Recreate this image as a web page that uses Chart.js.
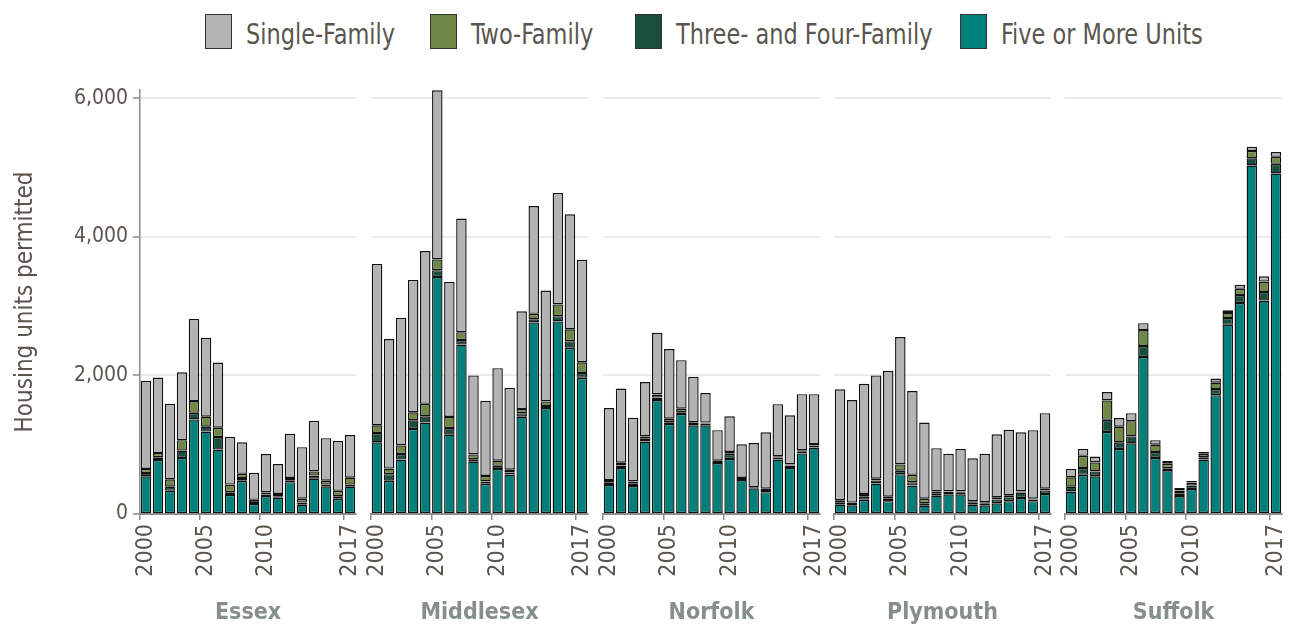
<!DOCTYPE html>
<html>
<head>
<meta charset="utf-8">
<script src="https://cdn.jsdelivr.net/npm/chart.js@4.4.1/dist/chart.umd.min.js"></script>
<style>
  html, body { margin:0; padding:0; background:#fff; width:1291px; height:625px; overflow:hidden; }
  #wrap { position:relative; width:1291px; height:625px; }
  canvas { position:absolute; top:0; }
  .leg { position:absolute; top:14px; height:35px; display:flex; align-items:center;
         font-family:'Liberation Sans Narrow','DejaVu Sans Condensed',Roboto,sans-serif;
         font-size:29px; color:#5a554f; white-space:nowrap; }
  .leg span.box { display:inline-block; width:25px; height:33px; border:1px solid #333; margin-right:14px; flex:none; }
  .leg span.t { display:inline-block; transform:translateY(2px) scaleX(0.86); transform-origin:0 50%; }
</style>
</head>
<body>
<div id="wrap">
  <div class="leg" style="left:205px"><span class="box" style="background:#b3b3b3"></span><span class="t">Single-Family</span></div>
  <div class="leg" style="left:430px"><span class="box" style="background:#6f8845"></span><span class="t">Two-Family</span></div>
  <div class="leg" style="left:635px"><span class="box" style="background:#1a4d3c"></span><span class="t">Three- and Four-Family</span></div>
  <div class="leg" style="left:960px"><span class="box" style="background:#00807a"></span><span class="t">Five or More Units</span></div>
  <canvas id="c0" width="368" height="625" style="left:0px"></canvas>
  <canvas id="c1" width="241" height="625" style="left:359px"></canvas>
  <canvas id="c2" width="241" height="625" style="left:591px"></canvas>
  <canvas id="c3" width="241" height="625" style="left:822px"></canvas>
  <canvas id="c4" width="241" height="625" style="left:1053px"></canvas>
</div>
<script>
const years = ['2000','2001','2002','2003','2004','2005','2006','2007','2008','2009','2010','2011','2012','2013','2014','2015','2016','2017'];
const labeledYears = ['2000','2005','2010','2017'];
const counties = ['Essex','Middlesex','Norfolk','Plymouth','Suffolk'];
const seriesNames = ['Five or More Units','Three- and Four-Family','Two-Family','Single-Family'];
const yTicks = [0, 2000, 4000, 6000];

const essexFive      = [545,780,335,810,1365,1190,930,275,480,145,260,235,460,135,510,400,220,395];
const essexThreeFour = [45,40,60,105,95,70,180,40,40,15,20,20,20,30,45,25,35,30];
const essexTwo       = [60,60,105,150,170,145,135,110,60,45,30,35,40,55,60,55,80,100];
const essexSingle    = [1275,1090,1090,980,1185,1140,940,690,455,390,555,430,640,745,730,615,720,615];

const middlesexFive      = [1035,480,785,1228,1320,3420,1145,2445,755,435,650,570,1405,2765,1530,2780,2400,1965];
const middlesexThreeFour = [135,95,80,125,90,100,95,65,35,35,45,30,50,45,30,75,95,70];
const middlesexTwo       = [110,80,125,115,180,155,160,115,70,80,75,40,60,80,65,170,170,155];
const middlesexSingle    = [2330,1870,1840,1910,2205,2440,1950,1640,1140,1085,1335,1180,1410,1555,1600,1610,1660,1480];

const norfolkFive      = [420,665,405,1045,1645,1300,1445,1280,1280,735,795,490,370,315,785,665,875,960];
const norfolkThreeFour = [40,35,30,40,35,25,25,20,25,15,75,15,5,30,30,35,25,30];
const norfolkTwo       = [30,40,35,35,45,50,50,25,15,20,25,15,10,20,20,15,20,20];
const norfolkSingle    = [1040,1070,920,785,890,1005,700,655,425,440,515,485,640,815,750,710,810,720];

const plymouthFive      = [135,125,205,440,185,575,410,120,265,285,285,135,125,155,185,230,185,290];
const plymouthThreeFour = [35,20,45,45,35,50,50,35,35,35,30,35,30,55,55,80,25,50];
const plymouthTwo       = [30,20,40,25,30,90,105,65,25,10,10,15,15,30,30,15,10,25];
const plymouthSingle    = [1600,1480,1590,1490,1815,1840,1210,1100,625,540,615,620,700,910,945,855,990,1090];

const suffolkFive      = [325,565,545,1185,940,1020,2265,810,635,260,360,785,1715,2730,3045,5030,3080,4915];
const suffolkThreeFour = [70,100,70,175,95,100,160,85,25,40,50,35,90,100,115,105,125,140];
const suffolkTwo       = [135,175,130,280,225,220,230,105,65,40,45,50,90,70,90,105,150,100];
const suffolkSingle    = [120,100,85,120,125,115,100,65,40,35,20,30,60,40,60,60,75,70];

const countyData = [
  [essexFive, essexThreeFour, essexTwo, essexSingle],
  [middlesexFive, middlesexThreeFour, middlesexTwo, middlesexSingle],
  [norfolkFive, norfolkThreeFour, norfolkTwo, norfolkSingle],
  [plymouthFive, plymouthThreeFour, plymouthTwo, plymouthSingle],
  [suffolkFive, suffolkThreeFour, suffolkTwo, suffolkSingle]
];
const seriesColors = ['#00807a', '#1a4d3c', '#6f8845', '#b3b3b3'];

const FONT = "'Liberation Sans Narrow','DejaVu Sans Condensed',Roboto,sans-serif";
const TXT = '#5a554f';
const AXIS = '#8c8c8c';

function makePanel(idx) {
  const first = idx === 0;
  const datasets = countyData[idx].map((arr, s) => ({
    label: seriesNames[s],
    data: arr,
    backgroundColor: seriesColors[s],
    borderColor: '#111111',
    borderWidth: 1.4,
    borderSkipped: false,
    categoryPercentage: 1.0,
    barPercentage: 0.87
  }));
  new Chart(document.getElementById('c' + idx), {
    type: 'bar',
    data: { labels: years, datasets },
    options: {
      responsive: false,
      animation: false,
      devicePixelRatio: 1,
      layout: { padding: { left: first ? 0 : 12, right: 12, top: 90, bottom: 0 } },
      plugins: { legend: { display: false }, tooltip: { enabled: false } },
      scales: {
        x: {
          stacked: true,
          offset: true,
          grid: {
            display: true, drawOnChartArea: false, drawTicks: true, tickLength: 6, lineWidth: 1.5,
            tickColor: (c) => labeledYears.includes(years[c.index]) ? AXIS : 'rgba(0,0,0,0)'
          },
          border: { display: true, color: AXIS, width: 2 },
          ticks: {
            autoSkip: false, minRotation: 90, maxRotation: 90, padding: 4,
            color: TXT, font: { family: FONT, size: 23 },
            callback: (v, i) => labeledYears.includes(years[i]) ? years[i] : ''
          },
          title: {
            display: true, text: counties[idx], color: '#878e8e',
            font: { family: FONT, size: 23, weight: 'bold', lineHeight: 1 },
            padding: { top: 0, bottom: 0 }
          },
          afterFit: (s) => { s.height = 111; s.paddingLeft = 0; s.paddingRight = 0; }
        },
        y: {
          stacked: true,
          min: 0, max: 6120,
          afterBuildTicks: (s) => { s.ticks = yTicks.map(v => ({ value: v })); },
          grid: {
            display: true, drawTicks: first, tickLength: 7, lineWidth: 2,
            color: (c) => (c.tick && c.tick.value === 0) ? 'rgba(0,0,0,0)' : '#ebebeb',
            tickColor: AXIS, tickWidth: 1.5
          },
          border: { display: first, color: AXIS, width: 1.5 },
          ticks: {
            display: first, padding: 5, color: TXT, font: { family: FONT, size: 21 },
            callback: (v) => Number(v).toLocaleString('en-US')
          },
          title: {
            display: first, text: 'Housing units permitted', color: TXT,
            font: { family: FONT, size: 24, lineHeight: 1.2 },
            padding: { top: 11, bottom: 0 }
          },
          afterFit: (s) => { s.width = first ? 140 : 0; s.paddingTop = 0; s.paddingBottom = 0; }
        }
      }
    }
  });
}
for (let i = 0; i < counties.length; i++) makePanel(i);
</script>
</body>
</html>
